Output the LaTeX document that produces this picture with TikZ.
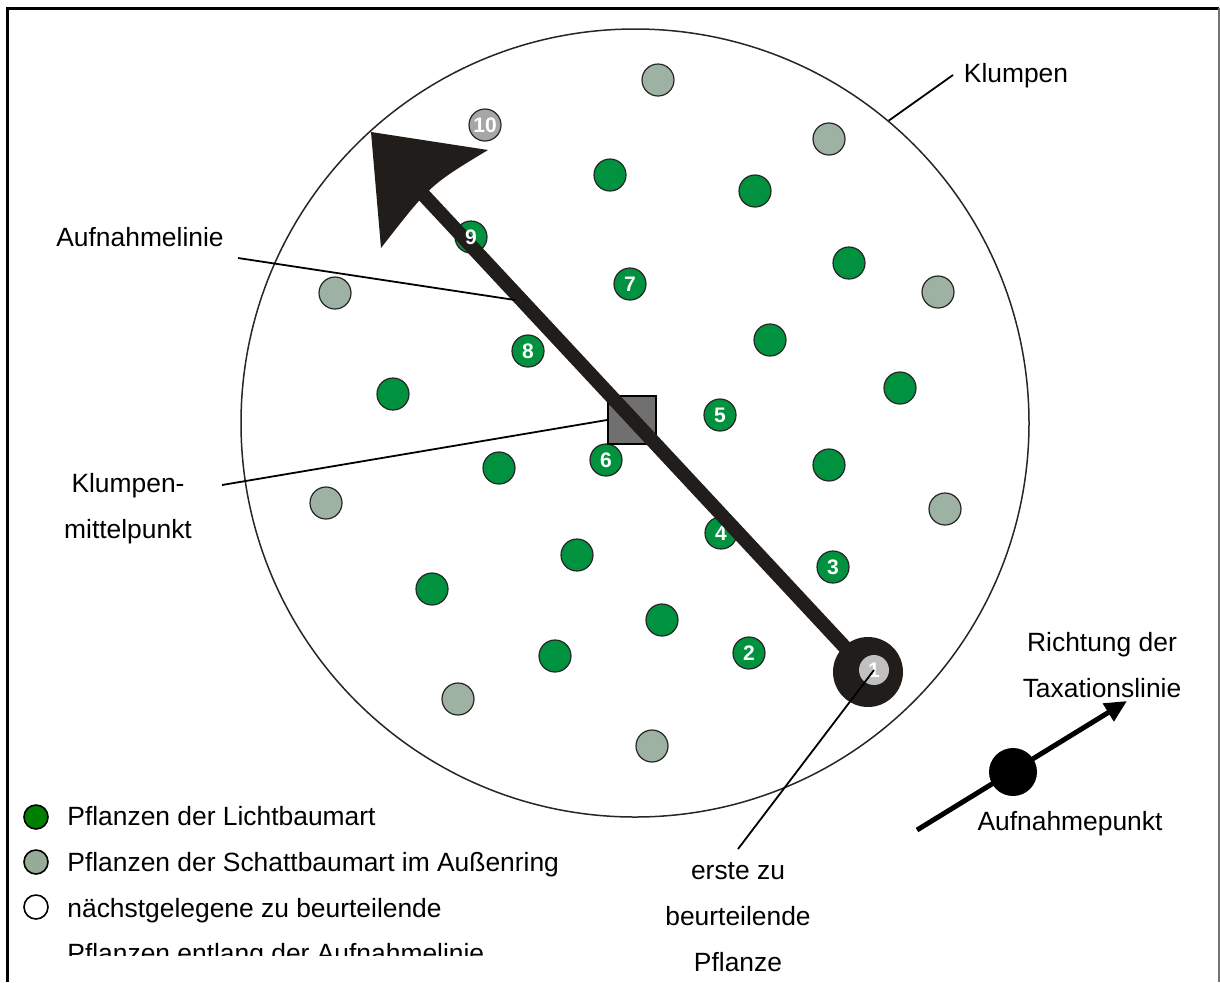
\documentclass[tikz,border=0pt]{standalone}
\usepackage{fontspec}
\setmainfont{Liberation Sans}
\usetikzlibrary{arrows.meta}
\definecolor{lgreen}{RGB}{0,146,63}
\definecolor{sgray}{RGB}{157,178,163}
\definecolor{legreen}{RGB}{0,128,0}
\definecolor{legray}{RGB}{150,172,152}
\definecolor{numgray}{RGB}{166,166,166}
\definecolor{ringin}{RGB}{192,192,192}
\definecolor{sqgray}{RGB}{112,112,112}
\definecolor{darkc}{RGB}{33,29,26}
\tikzset{
  tree/.style={circle, draw=black!85, line width=0.6pt, minimum size=16pt, inner sep=0pt,
    font=\fontsize{10.5}{10.5}\selectfont\bfseries, text=white},
  lichtbaum/.style={tree, fill=lgreen},
  schattbaum/.style={tree, fill=sgray},
  numbered/.style={tree, fill=numgray},
  lbl/.style={font=\fontsize{13.2}{23}\selectfont, inner sep=0pt, align=center},
  legtext/.style={font=\fontsize{13.2}{13.2}\selectfont, inner sep=0pt, anchor=base west},
  legdot/.style={circle, draw=black, line width=0.8pt, minimum size=12pt, inner sep=0pt},
  pointer/.style={line width=0.9pt, draw=black},
  shaft/.style={line width=7pt, draw=darkc},
}
\begin{document}
\begin{tikzpicture}[x=0.5pt,y=-0.5pt]
\useasboundingbox (0,0) rectangle (1220,982);
% frame
\draw[line width=1.5pt] (7,982) -- (7,8) -- (1219,8);
\draw[line width=0.7pt, black!55] (1219,8) -- (1219,982);
% clump circle
\node[circle, draw=black!85, line width=0.75pt, minimum size=394pt, inner sep=0pt] (klumpen) at (635,423) {};
% shade-tree species (outer ring)
\node[schattbaum] (s1) at (658,80) {};
\node[schattbaum] (s2) at (829,139) {};
\node[schattbaum] (s3) at (335,293) {};
\node[schattbaum] (s4) at (938,292) {};
\node[schattbaum] (s5) at (326,503) {};
\node[schattbaum] (s6) at (945,509) {};
\node[schattbaum] (s7) at (458,699) {};
\node[schattbaum] (s8) at (652,746) {};
% light-tree species
\node[lichtbaum] (g1) at (610,175) {};
\node[lichtbaum] (g2) at (755,191) {};
\node[lichtbaum] (g3) at (849,263) {};
\node[lichtbaum] (g4) at (770,340) {};
\node[lichtbaum] (g5) at (900,388) {};
\node[lichtbaum] (g6) at (393,394) {};
\node[lichtbaum] (g7) at (499,468) {};
\node[lichtbaum] (g8) at (829,465) {};
\node[lichtbaum] (g9) at (577,555) {};
\node[lichtbaum] (g10) at (432,589) {};
\node[lichtbaum] (g11) at (662,620) {};
\node[lichtbaum] (g12) at (555,656) {};
% numbered plants
\node[lichtbaum] (n2) at (749,653) {2};
\node[lichtbaum] (n3) at (833,567) {3};
\node[lichtbaum] (n4) at (721,533) {4};
\node[lichtbaum] (n5) at (720,415) {5};
\node[lichtbaum] (n6) at (606,460) {6};
\node[lichtbaum] (n7) at (630,284) {7};
\node[lichtbaum] (n8) at (528,351) {8};
\node[lichtbaum] (n9) at (471,237) {};
\node[numbered] (n10) at (485,125) {10};
% clump centre
\node[draw=black, line width=1pt, fill=sqgray, minimum size=24pt, inner sep=0pt] (mitte) at (632,420) {};
% survey line
\node[circle, fill=darkc, minimum size=35pt, inner sep=0pt] (ring) at (868,672) {};
\coordinate (shaftend) at (405,175);
\coordinate (tip) at (371,132);
\coordinate (cornerA) at (488,150);
\coordinate (cornerB) at (381,248);
\coordinate (notch) at (430,185);
\draw[shaft] (ring.center) -- (shaftend);
\fill[darkc] (tip) -- (cornerA) .. controls (notch) .. (cornerB) -- cycle;
\node[circle, fill=ringin, minimum size=15pt, inner sep=0pt, text=white,
  font=\fontsize{10.5}{10.5}\selectfont\bfseries] (p1) at (874,670) {1};
\node[inner sep=0pt, text=white, font=\fontsize{10.5}{10.5}\selectfont\bfseries] (n9lbl) at (n9.center) {9};
% labels
\node[lbl] (lblKlumpen) at (1016,76) {Klumpen};
\node[lbl] (lblAuf) at (140,237) {Aufnahmelinie};
\node[lbl] (lblMitte) at (128,509) {Klumpen-\\mittelpunkt};
\node[lbl] (lblRichtung) at (1102,665) {Richtung der\\Taxationslinie};
\node[lbl] (lblPunkt) at (1070,824) {Aufnahmepunkt};
\node[lbl] (lblErste) at (738,917) {erste zu\\beurteilende\\Pflanze};
% pointer lines
\coordinate (aufStart) at (238,258);
\coordinate (aufEnd) at (515,300);
\coordinate (mitteStart) at (222,485);
\coordinate (klStart) at (953,75);
\coordinate (ersteStart) at (738,849);
\draw[pointer] (aufStart) -- (aufEnd);
\draw[pointer] (mitteStart) -- (mitte.west);
\draw[pointer] (klStart) -- (klumpen.50);
\draw[pointer] (ersteStart) -- (p1.center);
% direction of the transect
\coordinate (taxStart) at (917,830);
\coordinate (taxEnd) at (1127,701);
\draw[line width=2.5pt, -{Triangle[length=11pt, width=10pt]}] (taxStart) -- (taxEnd);
\node[circle, fill=black, minimum size=24pt, inner sep=0pt] (aufpunkt) at (1013,772) {};
% legend
\node[legdot, fill=legreen] (leg1) at (36,817) {};
\node[legdot, fill=legray] (leg2) at (36,862) {};
\node[legdot, fill=white] (leg3) at (36,907) {};
\node[legtext] (legt1) at (67,825) {Pflanzen der Lichtbaumart};
\node[legtext] (legt2) at (67,871) {Pflanzen der Schattbaumart im Außenring};
\node[legtext] (legt3) at (67,917) {nächstgelegene zu beurteilende};
\begin{scope}
\clip (0,0) rectangle (1220,955);
\node[legtext] (legt4) at (67,962) {Pflanzen entlang der Aufnahmelinie};
\end{scope}
\end{tikzpicture}
\end{document}
